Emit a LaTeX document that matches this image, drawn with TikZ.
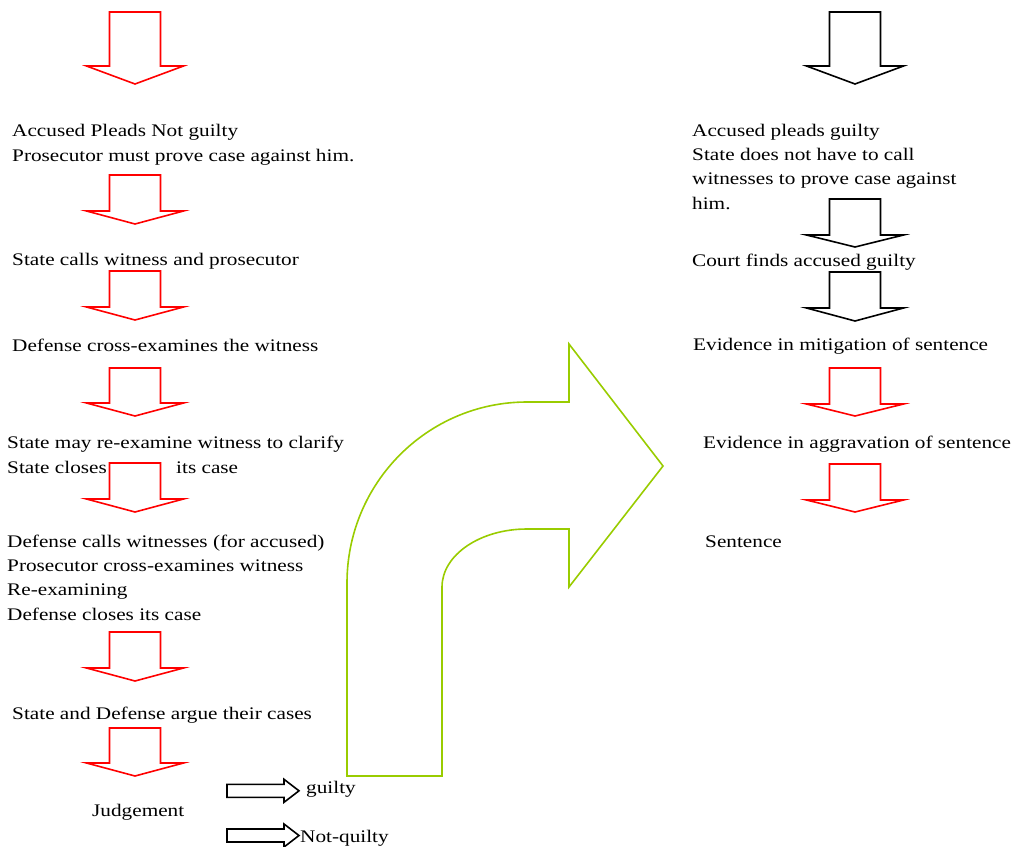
\documentclass[tikz,border=0pt]{standalone}
\usepackage{fontspec}
\setmainfont{Liberation Serif}[FakeStretch=1.2]
\definecolor{arrred}{RGB}{255,0,0}
\definecolor{arrgreen}{RGB}{153,204,0}
\tikzset{
  lbl/.style={anchor=base west, inner sep=0pt, align=left, font=\fontsize{17.7}{24.3}\selectfont},
  redarrow/.style={draw=arrred, line width=1.6pt, line join=miter},
  blackarrow/.style={draw=black, line width=1.6pt, line join=miter},
  greenarrow/.style={draw=arrgreen, line width=1.6pt, line join=miter},
  pics/blockdown/.style n args={2}{code={
    \path[pic actions] (-25.5,0) -- (25.5,0) -- (25.5,#1) -- (48.5,#1) -- (0,#1+#2) -- (-48.5,#1) -- (-25.5,#1) -- cycle;
  }},
  pics/blockright/.style={code={
    \path[pic actions] (0,-6.5) -- (57,-6.5) -- (57,-11.5) -- (72,0) -- (57,11.5) -- (57,6.5) -- (0,6.5) -- cycle;
  }}
}
\begin{document}
\begin{tikzpicture}[x=1pt,y=-1pt]
\useasboundingbox (0,0) rectangle (1014,846);
% left column arrows
\pic[redarrow] (la1) at (135,12) {blockdown={54}{18}};
\pic[redarrow] (la2) at (135,175) {blockdown={36}{13}};
\pic[redarrow] (la3) at (135,271) {blockdown={36}{13}};
\pic[redarrow] (la4) at (135,368) {blockdown={35}{13}};
\pic[redarrow] (la5) at (135,463) {blockdown={36}{13}};
\pic[redarrow] (la6) at (135,632) {blockdown={36}{13}};
\pic[redarrow] (la7) at (135,728) {blockdown={35}{13}};
% right column arrows
\pic[blackarrow] (ra1) at (855,12) {blockdown={54}{18}};
\pic[blackarrow] (ra2) at (855,199) {blockdown={36}{12}};
\pic[blackarrow] (ra3) at (855,272) {blockdown={36}{13}};
\pic[redarrow] (ra4) at (855,368) {blockdown={36}{12}};
\pic[redarrow] (ra5) at (855,464) {blockdown={36}{12}};
% small right arrows
\pic[blackarrow] (sa1) at (227,790.8) {blockright};
\pic[blackarrow] (sa2) at (227,835.5) {blockright};
% green bent arrow
\path[greenarrow] (347,776) -- (347,583)
  .. controls (347,483) and (427.6,402) .. (527,402)
  -- (569,402) -- (569,344) -- (663,466) -- (569,587) -- (569,529) -- (527,529)
  .. controls (480,529) and (442,555) .. (442,587)
  -- (442,776) -- cycle;
% left texts
\node[lbl] (t1) at (12,161) {Accused Pleads Not guilty\\Prosecutor must prove case against him.};
\node[lbl] (t2) at (12,265) {State calls witness and prosecutor};
\node[lbl] (t3) at (12,351) {Defense cross-examines the witness};
\node[lbl] (t4) at (7,473) {State may re-examine witness to clarify\\State closes};
\node[lbl] (t4b) at (176,473) {its case};
\node[lbl] (t5) at (7,620) {Defense calls witnesses (for accused)\\Prosecutor cross-examines witness\\Re-examining\\Defense closes its case};
\node[lbl] (t6) at (12,719) {State and Defense argue their cases};
\node[lbl] (t7) at (92,816) {Judgement};
\node[lbl] (t8) at (306,793) {guilty};
\node[lbl] (t9) at (300,842) {Not-quilty};
% right texts
\node[lbl] (r1) at (692,209) {Accused pleads guilty\\State does not have to call\\witnesses to prove case against\\him.};
\node[lbl] (r2) at (692,266) {Court finds accused guilty};
\node[lbl] (r3) at (693,350) {Evidence in mitigation of sentence};
\node[lbl] (r4) at (703,448) {Evidence in aggravation of sentence};
\node[lbl] (r5) at (705,547) {Sentence};
\end{tikzpicture}
\end{document}
